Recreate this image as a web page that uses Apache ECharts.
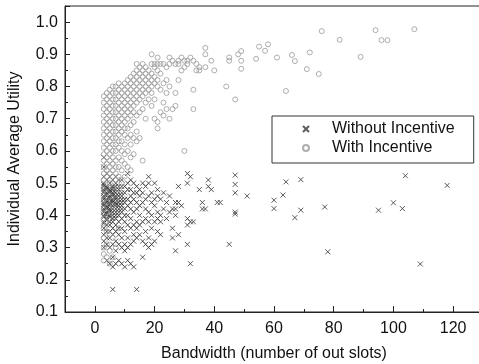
<!DOCTYPE html>
<html>
<head>
<meta charset="utf-8">
<script src="https://cdn.jsdelivr.net/npm/echarts@6/dist/echarts.min.js"></script>
<style>
  html, body { margin: 0; padding: 0; background: #fff; }
  #chart { width: 479px; height: 364px; }
</style>
</head>
<body>
<div id="chart"></div>
<script>
// bandwidth (out slots) -> utility values, grouped by bandwidth column
const withoutIncentive = [
  [3, [0.30, 0.32, 0.34, 0.36, 0.375, 0.38, 0.395, 0.40, 0.41, 0.415, 0.42, 0.43, 0.435, 0.44, 0.45, 0.455, 0.46, 0.47, 0.475, 0.48, 0.49, 0.495, 0.50, 0.52, 0.55, 0.58]],
  [4, [0.26, 0.31, 0.33, 0.35, 0.37, 0.385, 0.39, 0.40, 0.405, 0.41, 0.42, 0.425, 0.43, 0.44, 0.445, 0.45, 0.46, 0.465, 0.47, 0.48, 0.485, 0.49, 0.51, 0.53]],
  [5, [0.25, 0.30, 0.33, 0.35, 0.37, 0.38, 0.395, 0.40, 0.41, 0.415, 0.42, 0.43, 0.435, 0.44, 0.45, 0.455, 0.46, 0.47, 0.475, 0.48, 0.50, 0.52]],
  [6, [0.17, 0.24, 0.27, 0.31, 0.34, 0.36, 0.38, 0.39, 0.40, 0.41, 0.42, 0.43, 0.44, 0.445, 0.45, 0.46, 0.465, 0.47, 0.48, 0.485, 0.49, 0.51]],
  [7, [0.25, 0.29, 0.32, 0.35, 0.37, 0.39, 0.40, 0.41, 0.42, 0.43, 0.435, 0.44, 0.45, 0.455, 0.46, 0.47, 0.48, 0.49, 0.50, 0.52]],
  [8, [0.26, 0.31, 0.34, 0.36, 0.38, 0.40, 0.41, 0.42, 0.43, 0.44, 0.45, 0.46, 0.47, 0.48, 0.49, 0.51]],
  [9, [0.25, 0.30, 0.33, 0.36, 0.39, 0.41, 0.42, 0.43, 0.44, 0.45, 0.46, 0.47, 0.49, 0.51]],
  [10, [0.24, 0.29, 0.31, 0.35, 0.38, 0.40, 0.42, 0.44, 0.45, 0.47, 0.49]],
  [11, [0.26, 0.30, 0.33, 0.37, 0.40, 0.43, 0.45, 0.48, 0.50, 0.53]],
  [12, [0.25, 0.31, 0.36, 0.39, 0.42, 0.44, 0.46, 0.48, 0.51]],
  [13, [0.24, 0.32, 0.34, 0.37, 0.41, 0.45, 0.47, 0.50]],
  [14, [0.17, 0.33, 0.36, 0.38, 0.42, 0.44, 0.47, 0.49]],
  [15, [0.34, 0.37, 0.40, 0.43, 0.46, 0.48]],
  [16, [0.27, 0.32, 0.38, 0.44, 0.47, 0.50]],
  [17, [0.31, 0.35, 0.39, 0.42, 0.45, 0.49]],
  [18, [0.30, 0.33, 0.38, 0.41, 0.46, 0.50, 0.52]],
  [19, [0.31, 0.36, 0.40, 0.44, 0.47]],
  [20, [0.32, 0.38, 0.43, 0.45, 0.50]],
  [21, [0.35, 0.39, 0.41, 0.46, 0.48]],
  [22, [0.34, 0.38, 0.40, 0.45]],
  [23, [0.42, 0.47]],
  [24, [0.39, 0.44]],
  [25, [0.41, 0.46]],
  [26, [0.33, 0.36, 0.42]],
  [27, [0.29, 0.40, 0.42, 0.44]],
  [28, [0.34, 0.44, 0.49]],
  [29, [0.43]],
  [31, [0.31, 0.37, 0.39, 0.50, 0.53]],
  [32, [0.25, 0.38, 0.52]],
  [33, [0.38]],
  [35, [0.48]],
  [36, [0.42, 0.44]],
  [37, [0.42]],
  [38, [0.49, 0.51]],
  [39, [0.48]],
  [41, [0.44]],
  [42, [0.44]],
  [45, [0.31]],
  [47, [0.404, 0.41, 0.47, 0.496, 0.525]],
  [51, [0.46]],
  [60, [0.421, 0.447]],
  [63, [0.463]],
  [64, [0.504]],
  [67, [0.393]],
  [69, [0.416, 0.511]],
  [77, [0.426]],
  [78, [0.287]],
  [95, [0.416]],
  [100, [0.439]],
  [103, [0.421]],
  [104, [0.523]],
  [109, [0.249]],
  [118, [0.493]]
];

const withIncentive = [
  [3, [0.26, 0.28, 0.30, 0.33, 0.36, 0.39, 0.42, 0.45, 0.48, 0.51, 0.53, 0.55, 0.57, 0.59, 0.61, 0.63, 0.65, 0.67, 0.69, 0.71, 0.73, 0.75, 0.77]],
  [4, [0.27, 0.31, 0.35, 0.38, 0.41, 0.44, 0.47, 0.50, 0.52, 0.54, 0.56, 0.58, 0.60, 0.62, 0.64, 0.66, 0.68, 0.70, 0.72, 0.74, 0.76, 0.78]],
  [5, [0.25, 0.29, 0.34, 0.40, 0.46, 0.50, 0.53, 0.55, 0.57, 0.59, 0.61, 0.63, 0.65, 0.67, 0.69, 0.71, 0.73, 0.75, 0.77, 0.79]],
  [6, [0.27, 0.33, 0.43, 0.49, 0.52, 0.54, 0.56, 0.58, 0.60, 0.62, 0.64, 0.66, 0.68, 0.70, 0.72, 0.74, 0.76, 0.78, 0.80]],
  [7, [0.30, 0.45, 0.51, 0.53, 0.55, 0.57, 0.60, 0.62, 0.64, 0.66, 0.68, 0.70, 0.72, 0.74, 0.76, 0.78, 0.80]],
  [8, [0.36, 0.48, 0.52, 0.55, 0.58, 0.61, 0.63, 0.65, 0.67, 0.69, 0.71, 0.73, 0.75, 0.77, 0.79, 0.81]],
  [9, [0.50, 0.54, 0.57, 0.60, 0.63, 0.66, 0.68, 0.70, 0.72, 0.74, 0.76, 0.78, 0.80]],
  [10, [0.52, 0.56, 0.59, 0.62, 0.65, 0.67, 0.69, 0.71, 0.73, 0.75, 0.77, 0.79, 0.81]],
  [11, [0.55, 0.60, 0.64, 0.67, 0.70, 0.72, 0.74, 0.76, 0.78, 0.80, 0.82]],
  [12, [0.54, 0.58, 0.62, 0.65, 0.68, 0.71, 0.73, 0.75, 0.77, 0.79, 0.81, 0.83]],
  [13, [0.59, 0.64, 0.69, 0.72, 0.74, 0.76, 0.78, 0.80, 0.82, 0.84]],
  [14, [0.63, 0.66, 0.71, 0.75, 0.77, 0.79, 0.81, 0.83, 0.85, 0.87]],
  [15, [0.64, 0.72, 0.76, 0.78, 0.80, 0.82, 0.84, 0.86]],
  [16, [0.57, 0.73, 0.77, 0.79, 0.81, 0.83, 0.85, 0.87]],
  [17, [0.70, 0.75, 0.78, 0.80, 0.82, 0.84, 0.86]],
  [18, [0.76, 0.79, 0.81, 0.83, 0.85]],
  [19, [0.74, 0.78, 0.80, 0.82, 0.84, 0.87, 0.90]],
  [20, [0.70, 0.76, 0.81, 0.83, 0.86, 0.87]],
  [21, [0.67, 0.69, 0.80, 0.82, 0.85, 0.87, 0.89]],
  [22, [0.72, 0.79, 0.84, 0.87]],
  [23, [0.71, 0.75, 0.81, 0.87]],
  [24, [0.73, 0.78, 0.82, 0.86]],
  [25, [0.70, 0.80, 0.87, 0.89]],
  [26, [0.73, 0.88]],
  [27, [0.74, 0.78, 0.87]],
  [28, [0.82, 0.87, 0.88]],
  [29, [0.85, 0.89]],
  [30, [0.60, 0.86, 0.88]],
  [31, [0.87, 0.88]],
  [32, [0.89]],
  [33, [0.73, 0.79, 0.88]],
  [34, [0.85, 0.87]],
  [35, [0.85, 0.86]],
  [37, [0.86, 0.90, 0.92]],
  [39, [0.88]],
  [40, [0.85]],
  [44, [0.80]],
  [45, [0.88, 0.89]],
  [47, [0.76]],
  [48, [0.90]],
  [49, [0.855, 0.88, 0.91]],
  [54, [0.886]],
  [55, [0.924]],
  [57, [0.911]],
  [58, [0.931]],
  [61, [0.89]],
  [64, [0.786]],
  [66, [0.898]],
  [67, [0.879]],
  [71, [0.854]],
  [72, [0.906]],
  [75, [0.839]],
  [76, [0.972]],
  [82, [0.945]],
  [89, [0.892]],
  [94, [0.975]],
  [96, [0.944]],
  [98, [0.944]],
  [107, [0.978]]
];

const xTicks = [0, 20, 40, 60, 80, 100, 120];

function toPoints (cols) {
  return cols.flatMap(function (c) {
    return c[1].map(function (y) { return [c[0], y] })
  })
}

const font = 'Liberation Sans, Arial, sans-serif';
let myChart = echarts.init(document.getElementById('chart'), null, { renderer: 'canvas' });
let option = {
  animation: false,
  backgroundColor: '#fff',
  textStyle: { fontFamily: font },
  grid: {
    left: 65,
    right: -4,
    top: 6,
    bottom: 52,
    outerBoundsMode: 'none',
    containLabel: false,
    show: true,
    borderColor: '#222',
    borderWidth: 1
  },
  legend: {
    orient: 'vertical',
    left: 272,
    top: 116,
    width: 200,
    padding: [5, 19, 7, 30],
    itemGap: 3,
    itemWidth: 6,
    itemHeight: 6,
    borderColor: '#333',
    borderWidth: 1,
    textStyle: { fontSize: 16, color: '#111', fontFamily: font, padding: [0, 0, 0, 18] },
    data: ['Without Incentive', 'With Incentive']
  },
  xAxis: {
    type: 'value',
    min: -10,
    max: 130,
    splitNumber: 7,
    name: 'Bandwidth (number of out slots)',
    nameLocation: 'middle',
    nameGap: 34,
    nameTextStyle: { fontSize: 16, color: '#111', fontFamily: font },
    axisLine: { show: true, onZero: false, lineStyle: { color: '#222', width: 1 } },
    axisTick: { show: true, inside: true, length: 6, lineStyle: { color: '#222' } },
    minorTick: { show: true, splitNumber: 2, length: 3, lineStyle: { color: '#222' } },
    axisLabel: {
      fontSize: 16,
      color: '#111',
      margin: 9,
      showMinLabel: false,
      showMaxLabel: false,
      formatter: function (v) { return xTicks.indexOf(v) >= 0 ? String(v) : '' }
    },
    splitLine: { show: false }
  },
  yAxis: {
    type: 'value',
    min: 0.1,
    max: 1.05,
    interval: 0.1,
    name: 'Individual Average Utility',
    nameLocation: 'middle',
    nameGap: 42,
    nameTextStyle: { fontSize: 16, color: '#111', fontFamily: font },
    axisLine: { show: true, onZero: false, lineStyle: { color: '#222', width: 1 } },
    axisTick: { show: true, inside: true, length: 5, lineStyle: { color: '#222' } },
    minorTick: { show: true, splitNumber: 2, length: 3, lineStyle: { color: '#222' } },
    axisLabel: {
      fontSize: 16,
      color: '#111',
      margin: 7,
      showMaxLabel: false,
      formatter: function (v) { return Math.abs(v * 10 - Math.round(v * 10)) < 1e-6 ? v.toFixed(1) : '' }
    },
    splitLine: { show: false }
  },
  series: [
    {
      name: 'Without Incentive',
      type: 'scatter',
      symbol: 'path://M0,0L10,10M0,10L10,0',
      symbolSize: 5,
      itemStyle: { color: 'rgba(0,0,0,0)', borderColor: '#333', borderWidth: 1 },
      data: toPoints(withoutIncentive)
    },
    {
      name: 'With Incentive',
      type: 'scatter',
      symbol: 'circle',
      symbolSize: 5,
      itemStyle: { color: 'rgba(0,0,0,0)', borderColor: '#9a9a9a', borderWidth: 1 },
      data: toPoints(withIncentive)
    }
  ]
};
myChart.setOption(option);
</script>
</body>
</html>
